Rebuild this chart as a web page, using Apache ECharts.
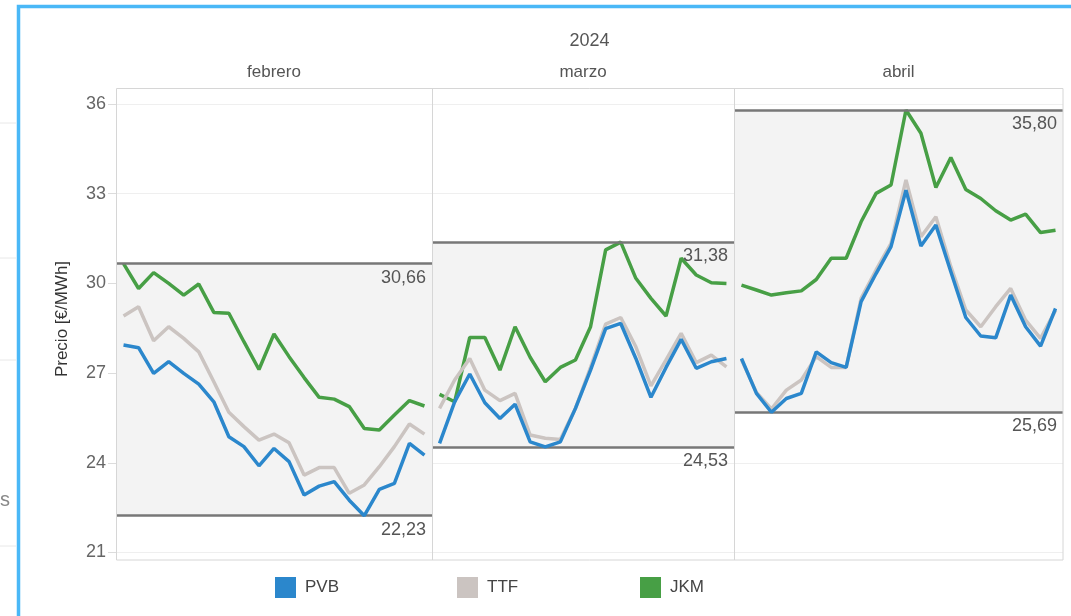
<!DOCTYPE html>
<html>
<head>
<meta charset="utf-8">
<script src="https://cdn.jsdelivr.net/npm/echarts@6/dist/echarts.min.js"></script>
<style>
html,body{margin:0;padding:0;background:#fff;}
#chart{width:1071px;height:616px;}
</style>
</head>
<body>
<div id="chart"></div>
<script>
// ---- data ----
var yearLabel = '2024';
var monthLabels = ['febrero', 'marzo', 'abril'];
var seriesNames = ['PVB', 'TTF', 'JKM'];
var yTicks = [21, 24, 27, 30, 33, 36];

var febDays = ['01/02','02/02','05/02','06/02','07/02','08/02','09/02','12/02','13/02','14/02','15/02','16/02','19/02','20/02','21/02','22/02','23/02','26/02','27/02','28/02','29/02'];
var marDays = ['01/03','04/03','05/03','06/03','07/03','08/03','11/03','12/03','13/03','14/03','15/03','18/03','19/03','20/03','21/03','22/03','25/03','26/03','27/03','28/03'];
var aprDays = ['01/04','02/04','03/04','04/04','05/04','08/04','09/04','10/04','11/04','12/04','15/04','16/04','17/04','18/04','19/04','22/04','23/04','24/04','25/04','26/04','29/04','30/04'];

var febPVB = [27.94,27.85,26.99,27.38,26.99,26.63,26.04,24.87,24.54,23.90,24.48,24.04,22.92,23.22,23.37,22.75,22.23,23.11,23.31,24.65,24.26];
var febTTF = [28.91,29.22,28.08,28.55,28.16,27.71,26.71,25.69,25.21,24.76,24.96,24.67,23.59,23.84,23.84,22.98,23.26,23.87,24.54,25.30,24.96];
var febJKM = [30.66,29.83,30.36,30.00,29.61,29.98,29.03,29.00,28.05,27.12,28.31,27.55,26.85,26.19,26.13,25.88,25.15,25.10,25.60,26.08,25.90];

var marPVB = [24.65,26.04,26.97,26.01,25.48,25.96,24.70,24.53,24.70,25.82,27.10,28.49,28.66,27.49,26.19,27.19,28.13,27.16,27.38,27.49];
var marTTF = [25.82,26.77,27.49,26.43,26.08,26.32,24.93,24.82,24.78,25.82,27.19,28.64,28.86,27.88,26.57,27.44,28.33,27.35,27.60,27.21];
var marJKM = [26.29,26.04,28.19,28.19,27.10,28.55,27.53,26.71,27.19,27.44,28.55,31.12,31.38,30.17,29.50,28.91,30.84,30.28,30.02,30.00];

var aprPVB = [27.49,26.32,25.69,26.15,26.32,27.71,27.35,27.19,29.39,30.33,31.23,33.12,31.25,31.95,30.39,28.86,28.24,28.18,29.61,28.55,27.90,29.16];
var aprTTF = [27.45,26.35,25.80,26.43,26.77,27.55,27.19,27.19,29.50,30.45,31.34,33.46,31.56,32.23,30.56,29.11,28.55,29.22,29.83,28.77,28.16,29.10];
var aprJKM = [29.94,29.78,29.61,29.69,29.75,30.13,30.84,30.84,32.06,33.01,33.29,35.80,35.02,33.21,34.21,33.14,32.84,32.43,32.12,32.32,31.70,31.78];

// ---- layout / styles ----
var FONT = '"Liberation Sans", Arial, sans-serif';
var colors = { PVB: '#2b87cc', TTF: '#cbc4c1', JKM: '#479f45' };
var panels = [
  { left: 116, width: 316, days: febDays, PVB: febPVB, TTF: febTTF, JKM: febJKM },
  { left: 432, width: 302, days: marDays, PVB: marPVB, TTF: marTTF, JKM: marJKM },
  { left: 734, width: 329, days: aprDays, PVB: aprPVB, TTF: aprTTF, JKM: aprJKM }
];
var gridTop = 104, gridBottom = 63.5;
var frameTop = 88.5, frameBottom = 560;

function fmt(v) { return v.toFixed(2).replace('.', ','); }

var grids = [], xAxes = [], yAxes = [], series = [];
panels.forEach(function (p, i) {
  grids.push({ left: p.left, width: p.width, top: gridTop, bottom: gridBottom, containLabel: false });
  xAxes.push({
    type: 'category', gridIndex: i, data: p.days, boundaryGap: true,
    axisLine: { show: false }, axisTick: { show: false }, axisLabel: { show: false }, splitLine: { show: false }
  });
  yAxes.push({
    type: 'value', gridIndex: i, min: 21, max: 36, interval: 3,
    axisLine: { show: false },
    axisTick: { show: i === 0, length: 8, lineStyle: { color: '#dcdcdc' } },
    axisLabel: { show: i === 0, color: '#666', fontSize: 18, fontFamily: FONT, margin: 10,
      customValues: yTicks },
    splitLine: { show: true, lineStyle: { color: '#efefef', width: 1 } }
  });
  var all = p.PVB.concat(p.TTF, p.JKM);
  var mx = Math.max.apply(null, all), mn = Math.min.apply(null, all);
  series.push({
    type: 'line', name: 'band' + i, xAxisIndex: i, yAxisIndex: i, data: [], z: 1, silent: true,
    markArea: { silent: true, itemStyle: { color: '#f3f3f3' }, data: [[{ yAxis: mn }, { yAxis: mx }]] },
    markLine: {
      silent: true, symbol: 'none',
      lineStyle: { color: '#777', width: 2.5, type: 'solid' },
      label: { position: 'insideEndBottom', distance: [6, 5], color: '#555', fontSize: 18, fontFamily: FONT,
        formatter: function (d) { return fmt(d.value); } },
      data: [{ yAxis: mx }, { yAxis: mn }]
    }
  });
  ['JKM', 'TTF', 'PVB'].forEach(function (n, k) {
    series.push({
      type: 'line', name: n, xAxisIndex: i, yAxisIndex: i, data: p[n], z: 3 + k,
      symbol: 'none', showSymbol: false,
      lineStyle: { color: colors[n], width: 3.5 }, itemStyle: { color: colors[n] }
    });
  });
});

var legendLeft = [270, 452, 635];
var legends = seriesNames.map(function (n, i) {
  return {
    data: [n], left: legendLeft[i], top: 572, orient: 'horizontal', icon: 'rect',
    itemWidth: 21, itemHeight: 21, selectedMode: false,
    textStyle: { color: '#444', fontSize: 17, fontFamily: FONT, padding: [0, 0, 0, 4] }
  };
});

var graphics = [
  // outer blue frame
  { type: 'rect', shape: { x: 18.5, y: 6.5, width: 1200, height: 800 }, style: { fill: null, stroke: '#4ab8f7', lineWidth: 3.5 }, z: 100 },
  // faint left artifacts
  { type: 'line', shape: { x1: 0, y1: 123, x2: 16, y2: 123 }, style: { stroke: '#e8e8e8', lineWidth: 1 } },
  { type: 'line', shape: { x1: 0, y1: 258, x2: 16, y2: 258 }, style: { stroke: '#e8e8e8', lineWidth: 1 } },
  { type: 'line', shape: { x1: 0, y1: 360, x2: 16, y2: 360 }, style: { stroke: '#e8e8e8', lineWidth: 1 } },
  { type: 'line', shape: { x1: 0, y1: 546, x2: 16, y2: 546 }, style: { stroke: '#e8e8e8', lineWidth: 1 } },
  { type: 'text', x: 0, y: 500, style: { text: 's', fill: '#888', fontSize: 20, fontFamily: FONT, textVerticalAlign: 'middle' } },
  // panel frame and dividers
  { type: 'rect', shape: { x: 116.5, y: frameTop, width: 946.5, height: frameBottom - frameTop }, style: { fill: null, stroke: '#d6d6d6', lineWidth: 1 }, z: 50 },
  { type: 'line', shape: { x1: 432.5, y1: frameTop, x2: 432.5, y2: frameBottom }, style: { stroke: '#d6d6d6', lineWidth: 1 }, z: 50 },
  { type: 'line', shape: { x1: 734.5, y1: frameTop, x2: 734.5, y2: frameBottom }, style: { stroke: '#d6d6d6', lineWidth: 1 }, z: 50 },
  // headers
  { type: 'text', x: 589.5, y: 41, style: { text: yearLabel, fill: '#555', fontSize: 18, fontFamily: FONT, textAlign: 'center', textVerticalAlign: 'middle' } },
  // y axis name
  { type: 'text', x: 62, y: 319, rotation: Math.PI / 2, style: { text: 'Precio [€/MWh]', fill: '#333', fontSize: 17, fontFamily: FONT, textAlign: 'center', textVerticalAlign: 'middle' } }
];
panels.forEach(function (p, i) {
  graphics.push({ type: 'text', x: p.left + p.width / 2, y: 72, style: { text: monthLabels[i], fill: '#555', fontSize: 17, fontFamily: FONT, textAlign: 'center', textVerticalAlign: 'middle' } });
});

var chart = echarts.init(document.getElementById('chart'), null, { renderer: 'canvas' });
chart.setOption({
  animation: false,
  backgroundColor: '#fff',
  grid: grids, xAxis: xAxes, yAxis: yAxes,
  legend: legends,
  series: series,
  graphic: graphics
});
</script>
</body>
</html>
